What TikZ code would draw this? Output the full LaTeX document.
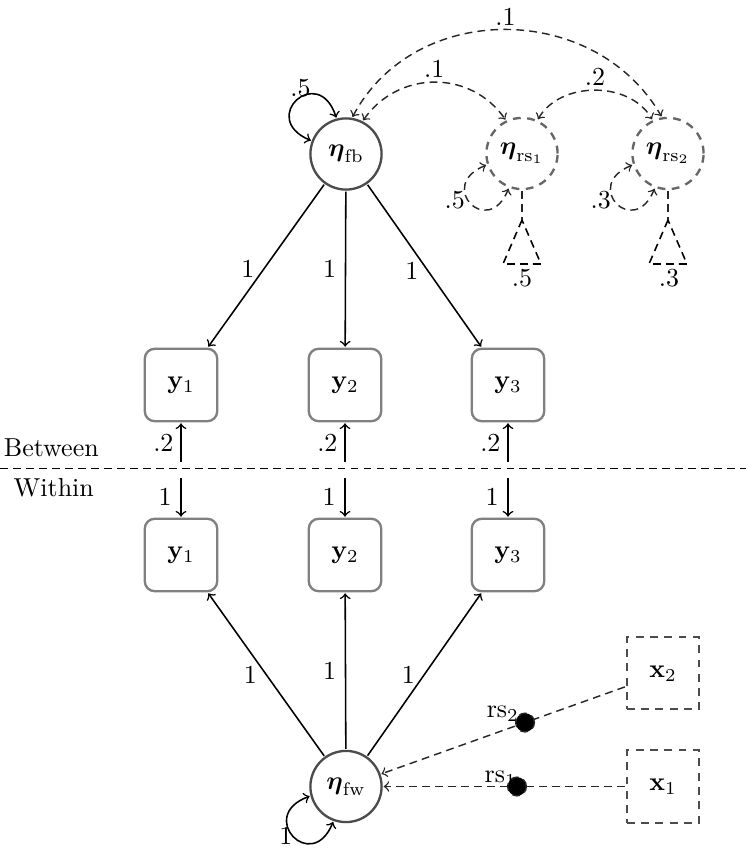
\documentclass[tikz,border=0pt]{standalone}
\usepackage{amssymb}
\usepackage{amsmath}
\usepackage{tikz}
\usetikzlibrary{shapes,arrows}
\usetikzlibrary{positioning}
\tikzset{auto,>=to, node distance=1cm, font=\fontsize{10}{12}\selectfont}
\tikzstyle{latent} = [draw=black!70, line width=0.9pt, circle, minimum size=27.4pt, inner sep=0pt, outer sep=0.8pt]
\tikzstyle{slope} = [latent, draw=black!60, dash pattern=on 3pt off 2.5pt]
\tikzstyle{manifest} = [draw=black!50, line width=0.9pt, rectangle, rounded corners=3.85pt, minimum size=27.9pt, outer sep=0.8pt]
\tikzstyle{covariate} = [draw=black!70, line width=0.7pt, dash pattern=on 3pt off 2.5pt, rectangle, minimum size=27.8pt, outer sep=0.8pt]
\tikzstyle{input} = [coordinate]
\tikzstyle{rsdot} = [draw, circle, fill, minimum size=7.2pt, inner sep=0pt, outer sep=0pt, anchor=center]
\tikzstyle{loading} = [->, line width=0.6pt]
\tikzstyle{covar} = [<->, draw=black!85, line width=0.55pt, dash pattern=on 3pt off 2pt]
\tikzstyle{effect} = [->, draw=black!85, line width=0.55pt, dash pattern=on 3pt off 2pt]

\begin{document}
\begin{tikzpicture}[x=0.385pt, y=0.385pt]
	\useasboundingbox (0,0) rectangle (746,848);
	\node [latent] (eta-fb) at (346,694) {$\boldsymbol{\eta}_{\mathrm{fb}}$};
	\node [slope] (eta-rs1) at (522,694.5) {$\boldsymbol{\eta}_{\mathrm{rs}_1}$};
	\node [slope] (eta-rs2) at (668,694.5) {$\boldsymbol{\eta}_{\mathrm{rs}_2}$};
	\node [input] (mean-rs1) at (522,628) {};
	\node [input] (mean-rs2) at (668,628) {};
	\node (val-rs1) at (522,569.5) {.5};
	\node (val-rs2) at (669,569.5) {.3};
	\node [manifest] (yb1) at (181,463) {$\mathbf{y}_1$};
	\node [manifest] (yb2) at (345,463) {$\mathbf{y}_2$};
	\node [manifest] (yb3) at (508,463) {$\mathbf{y}_3$};
	\node [manifest] (yw1) at (181,293) {$\mathbf{y}_1$};
	\node [manifest] (yw2) at (345,293) {$\mathbf{y}_2$};
	\node [manifest] (yw3) at (508,293) {$\mathbf{y}_3$};
	\node [input] (between-1) at (181,386.3) {};
	\node [input] (between-2) at (345,386.3) {};
	\node [input] (between-3) at (508,386.3) {};
	\node [input] (within-1) at (181,370) {};
	\node [input] (within-2) at (345,370) {};
	\node [input] (within-3) at (508,370) {};
	\node [input] (split-l) at (0,379.5) {};
	\node [input] (split-r) at (746,379.5) {};
	\node [anchor=base] (between) at (51.3,391.3) {Between};
	\node [anchor=base] (within) at (53.8,351.3) {Within};
	\node [latent] (eta-fw) at (346,61.5) {$\boldsymbol{\eta}_{\mathrm{fw}}$};
	\node [covariate] (x2) at (663,174.7) {$\mathbf{x}_2$};
	\node [covariate] (x1) at (663,61.5) {$\mathbf{x}_1$};

	\draw [dash pattern=on 3pt off 2pt, line width=0.55pt] (split-l) -- (split-r);
	\draw [loading] (eta-fb) -- node [left, pos=.52] {1} (yb1);
	\draw [loading] (eta-fb) -- node [left, pos=.5] {1} (yb2);
	\draw [loading] (eta-fb) -- node [left, pos=.53] {1} (yb3);
	\draw [loading] (between-1) -- node [left, inner sep=2.6pt] {.2} (yb1);
	\draw [loading] (between-2) -- node [left, inner sep=2.6pt] {.2} (yb2);
	\draw [loading] (between-3) -- node [left, inner sep=2.6pt] {.2} (yb3);
	\draw [loading] (within-1) -- node [left] {1} (yw1);
	\draw [loading] (within-2) -- node [left] {1} (yw2);
	\draw [loading] (within-3) -- node [left] {1} (yw3);
	\draw [loading] (eta-fw) -- node [left] {1} (yw1);
	\draw [loading] (eta-fw) -- node [left] {1} (yw2);
	\draw [loading] (eta-fw) -- node [left] {1} (yw3);
	\draw [<->, line width=0.6pt] (eta-fb.105) to [out=108, in=157, looseness=4.3] node [above, pos=.45, inner sep=0pt] {.5} (eta-fb.159);
	\draw [<->, line width=0.6pt] (eta-fw.195) to [out=200, in=248, looseness=4.2] node [left, inner sep=0pt] {1} (eta-fw.250);
	\draw [covar] (eta-rs1.198) to [out=202, in=248, looseness=4.3] node [left, pos=.45, inner sep=1pt] {.5} (eta-rs1.249);
	\draw [covar] (eta-rs2.198) to [out=202, in=248, looseness=4.3] node [left, pos=.45, inner sep=1pt] {.3} (eta-rs2.249);
	\draw [covar] (eta-fb.63) to [out=55, in=125, looseness=1.1] node [above, inner sep=1.5pt] {.1} (eta-rs1.116);
	\draw [covar] (eta-rs1.65) to [out=60, in=120] node [above, inner sep=1.5pt] {.2} (eta-rs2.115);
	\draw [covar] (eta-fb.80) to [out=62, in=120, looseness=1.1] node [above, inner sep=1.5pt] {.1} (eta-rs2.100);
	\draw [dash pattern=on 3pt off 2pt, draw=black!85, line width=0.55pt] (eta-rs1) -- (mean-rs1);
	\draw [dash pattern=on 3pt off 2pt, draw=black!85, line width=0.55pt] (eta-rs2) -- (mean-rs2);
	\draw [dash pattern=on 3pt off 2pt, line width=0.6pt] (mean-rs1) -- ++(-19,-44) -- ++(38,0) -- cycle;
	\draw [dash pattern=on 3pt off 2pt, line width=0.6pt] (mean-rs2) -- ++(-19,-44) -- ++(38,0) -- cycle;
	\draw [effect] (x2) -- node [rsdot, pos=.41, label={[inner sep=0pt, label distance=-1.5pt]175:$\mathrm{rs}_2$}] (dot-rs2) {} (eta-fw);
	\draw [effect] (x1) -- node [rsdot, pos=.447, label={[inner sep=0pt, label distance=-4pt]118:$\mathrm{rs}_1$}] (dot-rs1) {} (eta-fw);
\end{tikzpicture}
\end{document}
